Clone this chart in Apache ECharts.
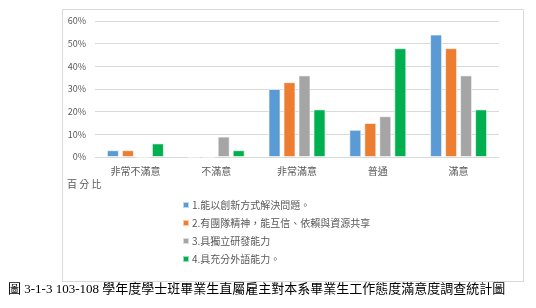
<!DOCTYPE html>
<html>
<head>
<meta charset="utf-8">
<script src="https://cdn.jsdelivr.net/npm/echarts@6/dist/echarts.min.js"></script>
<style>
  html, body { margin: 0; padding: 0; background: #fff; }
  #chart { width: 536px; height: 308px; }
</style>
</head>
<body>
<div id="chart"></div>
<script>
// 滿意度類別
const categories = ['非常不滿意', '不滿意', '非常滿意', '普通', '滿意'];
// 各項能力 (百分比)
const seriesNames = [
  '1.能以創新方式解決問題。',
  '2.有團隊精神，能互信、依賴與資源共享',
  '3.具獨立研發能力',
  '4.具充分外語能力。'
];
const innovation = [3, 0, 30, 12, 54];
const teamwork = [3, 0, 33, 15, 48];
const research = [0, 9, 36, 18, 36];
const language = [6, 3, 21, 48, 21];
const colors = ['#5B9BD5', '#ED7D31', '#A5A5A5', '#00B050'];

const chart = echarts.init(document.getElementById('chart'));
const font = '"Noto Sans CJK TC", "Noto Sans", sans-serif';

const allValues = [innovation, teamwork, research, language];

const option = {
  animation: false,
  textStyle: { fontFamily: font },
  grid: { left: 95, right: 37, top: 21, height: 136 },
  legend: {
    orient: 'vertical',
    left: 177,
    top: 195,
    itemWidth: 6,
    itemHeight: 6,
    itemGap: 8,
    icon: 'rect',
    textStyle: { fontSize: 10, color: '#595959', fontFamily: font, padding: [0, 0, 0, -2] },
    data: seriesNames
  },
  xAxis: {
    type: 'category',
    data: categories,
    axisLine: { lineStyle: { color: '#d9d9d9' } },
    axisTick: { show: false },
    axisLabel: { fontSize: 10, color: '#595959', margin: 9 }
  },
  yAxis: {
    type: 'value',
    min: 0,
    max: 60,
    interval: 10,
    axisLine: { show: false },
    axisTick: { show: false },
    splitLine: { lineStyle: { color: '#d9d9d9' } },
    axisLabel: { fontSize: 9, color: '#595959', formatter: '{value}%', margin: 9 }
  },
  series: seriesNames.map((name, i) => ({
    name: name,
    type: 'bar',
    data: allValues[i],
    barWidth: 12,
    barGap: '25%',
    itemStyle: {
      color: colors[i],
      borderColor: 'rgba(255,255,255,0.6)',
      borderWidth: 1
    }
  })),
  color: colors,
  graphic: [
    {
      type: 'rect',
      shape: { x: 62.5, y: 9.5, width: 461, height: 272 },
      style: { fill: 'none', stroke: '#d9d9d9', lineWidth: 1 },
      silent: true
    },
    {
      type: 'text',
      left: 67,
      top: 179,
      style: { text: '百 分 比', fontSize: 10, fill: '#595959', fontFamily: font }
    },
    {
      type: 'text',
      left: 8,
      top: 283,
      style: {
        text: '圖 3-1-3 103-108 學年度學士班畢業生直屬雇主對本系畢業生工作態度滿意度調查統計圖',
        fontSize: 13,
        fill: '#000',
        fontFamily: '"Liberation Serif", "Noto Sans CJK TC", serif'
      }
    }
  ]
};

chart.setOption(option);
</script>
</body>
</html>
